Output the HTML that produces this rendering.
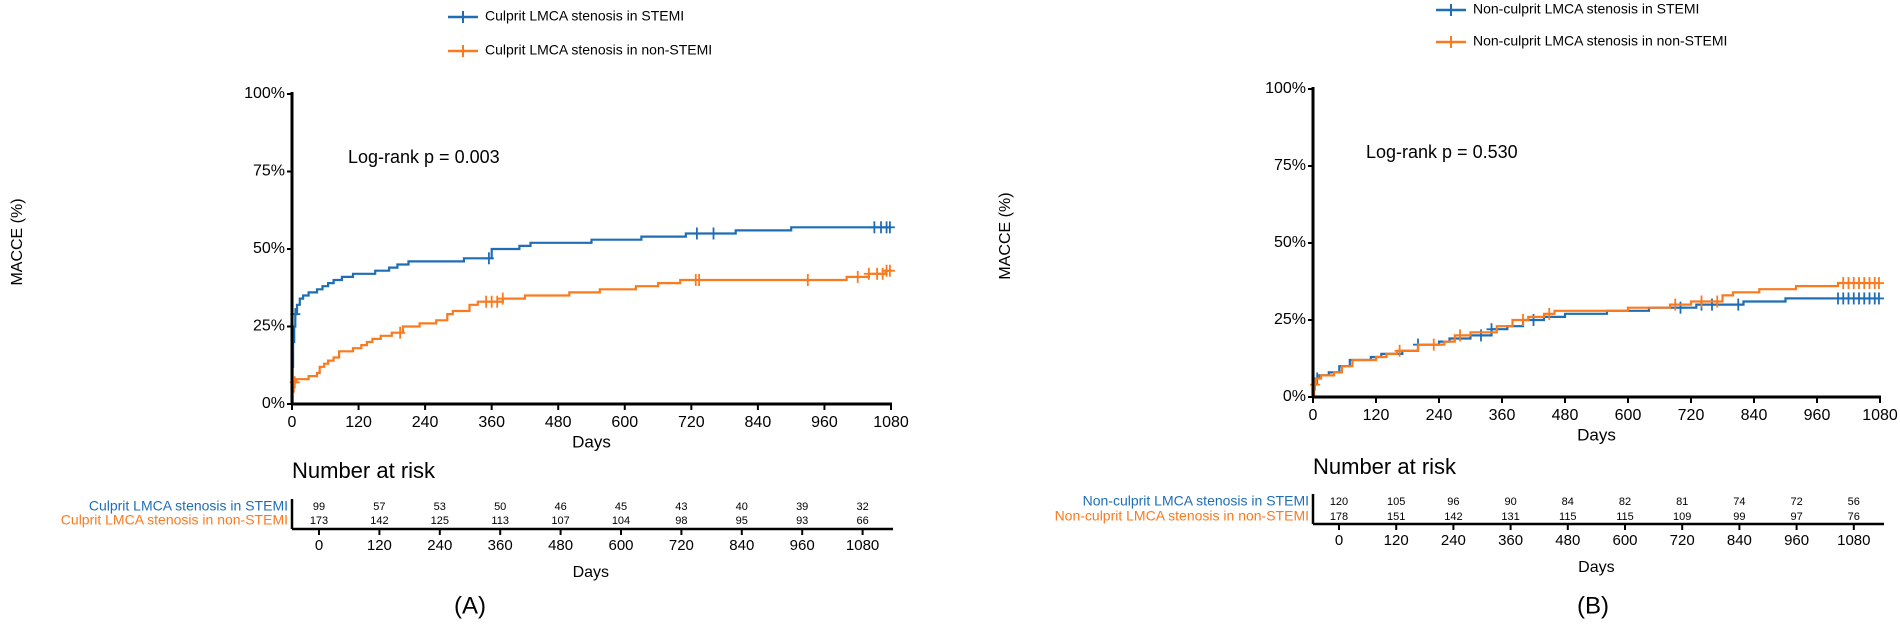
<!DOCTYPE html>
<html><head><meta charset="utf-8"><style>
body{margin:0;background:#fff}
svg{display:block;font-family:"Liberation Sans",Arial,sans-serif}
</style></head><body>
<svg id="s" width="1900" height="627" viewBox="0 0 1900 627" xmlns="http://www.w3.org/2000/svg"></svg>
<script>
var B='#1f6db5',O='#fa7a1e';
var s=document.getElementById('s'),h='';
function t(x,y,txt,sz,fill,anchor,extra){h+='<text x="'+x+'" y="'+y+'" font-size="'+sz+'" fill="'+(fill||'#000')+'" text-anchor="'+(anchor||'start')+'" dominant-baseline="middle" '+(extra||'')+'>'+txt+'</text>';}
function l(x1,y1,x2,y2,c,w){h+='<line x1="'+x1+'" y1="'+y1+'" x2="'+x2+'" y2="'+y2+'" stroke="'+c+'" stroke-width="'+w+'"/>';}
function panel(P){
 var ax=P.ax,y0=P.y0,y100=P.y100,x1080=P.x1080;
 var X=function(d){return ax+(x1080-ax)*d/1080},Y=function(p){return y0-(y0-y100)*p/100};
 [[B,P.leg[0]],[O,P.leg[1]]].forEach(function(a,i){var y=P.legy[i];l(P.legx,y,P.legx+30,y,a[0],2.5);l(P.legx+15,y-6,P.legx+15,y+6,a[0],2);t(P.legx+37,y,a[1],14);});
 P.curves.forEach(function(c){
  var d='M'+X(0)+','+Y(c.pts[0][1]);var prev=c.pts[0][1];
  for(var i=1;i<c.pts.length;i++){var p=c.pts[i];d+='L'+X(p[0]).toFixed(1)+','+Y(prev).toFixed(1)+'L'+X(p[0]).toFixed(1)+','+Y(p[1]).toFixed(1);prev=p[1];}
  d+='L'+X(1080)+','+Y(prev);
  h+='<path d="'+d+'" fill="none" stroke="'+c.col+'" stroke-width="2.2"/>';
  c.cens.forEach(function(cd){var v=0;for(var i=0;i<c.pts.length;i++)if(c.pts[i][0]<=cd[0])v=c.pts[i][1];l(X(cd[0]),Y(v)-6,X(cd[0]),Y(v)+6,c.col,1.8);l(X(cd[0])-5,Y(v),X(cd[0])+5,Y(v),c.col,1.8);});
 });
 l(ax,y100-2,ax,y0+1,'#000',3);l(ax-1,y0,x1080+1,y0,'#000',3);
 [0,25,50,75,100].forEach(function(p){l(ax-5,Y(p),ax,Y(p),'#000',2);t(ax-7,Y(p),p+'%',16,'#000','end');});
 for(var d=0;d<=1080;d+=120){l(X(d),y0,X(d),y0+6,'#000',2);t(X(d),y0+19,d,16,'#000','middle');}
 t((ax+x1080)/2,y0+39,'Days',17,'#000','middle');
 t(P.lrx,P.lry,P.lr,18);
 t(P.mx,P.my,'MACCE (%)',16,'#000','middle','transform="rotate(-90 '+P.mx+' '+P.my+')"');
 t(ax,P.nary,'Number at risk',22);
 var r=P.risk;
 l(ax,r.y1-8,ax,r.ly,'#000',2.5);l(ax,r.ly,r.xend,r.ly,'#000',2.5);
 t(ax-4,r.y1,P.leg[0],14,B,'end');t(ax-4,r.y2,P.leg[1],14,O,'end');
 for(var i=0;i<10;i++){var x=r.x0+i*r.dx;t(x,r.y1,r.n1[i],11,'#000','middle');t(x,r.y2,r.n2[i],11,'#000','middle');l(x,r.ly,x,r.ly+6,'#000',2);t(x,r.ly+17,i*120,15,'#000','middle');}
 t(r.x0+4.5*r.dx,r.ly+44,'Days',16,'#000','middle');
 t(P.labx,607,P.lab,24,'#000','middle');
}
panel({ax:292,y0:404,y100:94,x1080:891,legx:448,legy:[17,51],leg:['Culprit LMCA stenosis in STEMI','Culprit LMCA stenosis in non-STEMI'],
 lrx:348,lry:158,lr:'Log-rank p = 0.003',mx:18,my:242,nary:472,lab:'(A)',labx:470,
 risk:{y1:507,y2:521,ly:529,xend:893,x0:319,dx:60.4,n1:[99,57,53,50,46,45,43,40,39,32],n2:[173,142,125,113,107,104,98,95,93,66]},
 curves:[{col:B,pts:[[0,0],[1,12],[2,20],[4,25],[6,29],[9,32],[14,34],[20,35],[30,36],[45,37],[55,38],[65,39],[75,40],[90,41],[110,42],[150,43],[175,44],[190,45],[210,46],[310,47],[360,50],[410,51],[430,52],[540,53],[630,54],[710,55],[800,56],[900,57]],cens:[[6],[355],[730],[760],[1050],[1062],[1072],[1078]]},
 {col:O,pts:[[0,4],[3,7],[8,8],[30,9],[45,10],[50,12],[58,13],[65,14],[75,15],[85,17],[110,18],[125,19],[135,20],[145,21],[160,22],[180,23],[200,25],[230,26],[260,27],[280,29],[290,30],[320,32],[335,33],[380,34],[420,35],[500,36],[555,37],[620,38],[660,39],[700,40],[1000,41],[1040,42],[1070,43]],cens:[[5],[195],[350],[360],[370],[380],[728],[734],[930],[1020],[1040],[1055],[1065],[1072],[1078]]}]});
panel({ax:1313,y0:397,y100:89,x1080:1880,legx:1436,legy:[10,42],leg:['Non-culprit LMCA stenosis in STEMI','Non-culprit LMCA stenosis in non-STEMI'],
 lrx:1366,lry:153,lr:'Log-rank p = 0.530',mx:1006,my:236,nary:468,lab:'(B)',labx:1593,
 risk:{y1:502,y2:517,ly:524,xend:1884,x0:1339,dx:57.2,n1:[120,105,96,90,84,82,81,74,72,56],n2:[178,151,142,131,115,115,109,99,97,76]},
 curves:[{col:B,pts:[[0,0],[2,5],[6,6],[12,7],[30,8],[50,10],[70,12],[110,13],[130,14],[170,15],[200,17],[240,18],[260,19],[300,20],[340,22],[370,23],[400,25],[440,26],[480,27],[560,28],[640,29],[730,30],[820,31],[900,32]],cens:[[8],[200],[320],[340],[420],[700],[740],[760],[810],[1000],[1010],[1020],[1030],[1040],[1050],[1060],[1070],[1078]]},
 {col:O,pts:[[0,1],[2,4],[6,6],[15,7],[40,8],[55,10],[75,12],[120,13],[140,14],[160,15],[200,17],[250,18],[270,20],[300,21],[350,23],[380,25],[410,26],[440,27],[460,28],[600,29],[680,30],[720,31],[780,33],[800,34],[850,35],[920,36],[1000,37]],cens:[[4],[165],[230],[280],[400],[450],[690],[740],[770],[1010],[1020],[1030],[1040],[1050],[1060],[1070],[1078]]}]});
s.innerHTML=h;
</script>
</body></html>
